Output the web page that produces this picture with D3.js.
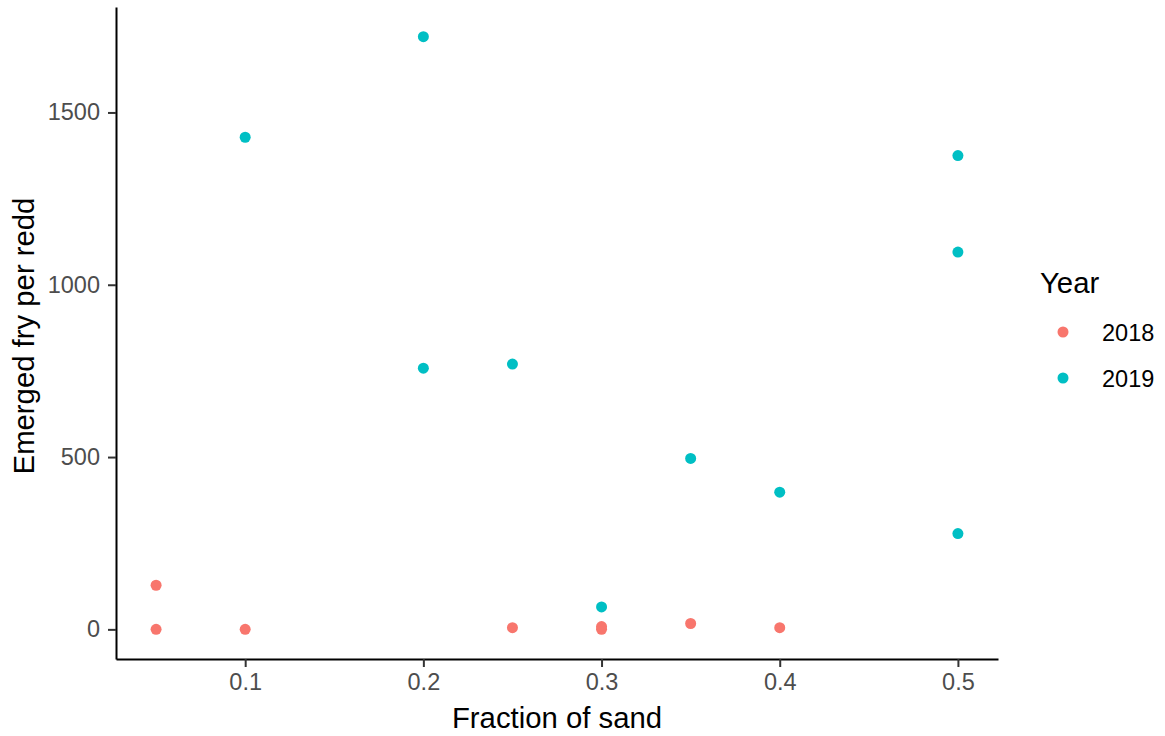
<!DOCTYPE html>
<html>
<head>
<meta charset="utf-8">
<script src="https://cdn.jsdelivr.net/npm/d3@7"></script>
<style>
  body { margin: 0; background: #fff; }
  svg { display: block; font-family: "Liberation Sans", Arial, sans-serif; }
</style>
</head>
<body>
<div id="chart"></div>
<script>
// data
const years = ["2018", "2019"];
const colors = ["#F8766D", "#00BFC4"];

const sand2018 = [0.05, 0.05, 0.1, 0.25, 0.3, 0.3, 0.35, 0.4];
const fry2018 = [128, 0, 0, 5, 0, 8, 17, 5];

const sand2019 = [0.1, 0.2, 0.2, 0.25, 0.3, 0.35, 0.4, 0.5, 0.5, 0.5];
const fry2019 = [1428, 1720, 758, 770, 65, 496, 398, 1375, 1095, 278];

const xTicks = [0.1, 0.2, 0.3, 0.4, 0.5];
const yTicks = [0, 500, 1000, 1500];

const points = [];
sand2018.forEach((s, i) => points.push({ sand: s, fry: fry2018[i], year: "2018" }));
sand2019.forEach((s, i) => points.push({ sand: s, fry: fry2019[i], year: "2019" }));

const width = 1165, height = 736;
const margin = { top: 7, right: 167, bottom: 77, left: 116 };

const colorScale = d3.scaleOrdinal().domain(years).range(colors);

// ggplot style 5% expansion
const xExt = d3.extent(points, d => d.sand);
const xPad = (xExt[1] - xExt[0]) * 0.05;
const yExt = d3.extent(points, d => d.fry);
const yPad = (yExt[1] - yExt[0]) * 0.05;

const xScale = d3.scaleLinear()
  .domain([xExt[0] - xPad, xExt[1] + xPad])
  .range([margin.left, width - margin.right]);

const yScale = d3.scaleLinear()
  .domain([yExt[0] - yPad, yExt[1] + yPad])
  .range([height - margin.bottom, margin.top]);

const svg = d3.select("#chart")
  .append("svg")
  .attr("width", width)
  .attr("height", height);

// points
svg.append("g")
  .selectAll("circle")
  .data(points)
  .enter()
  .append("circle")
  .attr("cx", d => xScale(d.sand))
  .attr("cy", d => yScale(d.fry))
  .attr("r", 5.5)
  .attr("fill", d => colorScale(d.year));

// axes
const xAxis = svg.append("g")
  .attr("transform", `translate(0,${height - margin.bottom})`)
  .call(d3.axisBottom(xScale).tickValues(xTicks).tickFormat(d3.format(".1f")).tickSize(8).tickPadding(6).tickSizeOuter(0));

const yAxis = svg.append("g")
  .attr("transform", `translate(${margin.left},0)`)
  .call(d3.axisLeft(yScale).tickValues(yTicks).tickFormat(d3.format("d")).tickSize(8).tickPadding(8).tickSizeOuter(0));

[xAxis, yAxis].forEach(ax => {
  ax.select(".domain").attr("stroke", "#000").attr("stroke-width", 2);
  ax.selectAll(".tick line").attr("stroke", "#333").attr("stroke-width", 2);
  ax.selectAll(".tick text")
    .attr("fill", "#4D4D4D")
    .style("font-size", "23.5px");
});

// axis titles
svg.append("text")
  .attr("x", (margin.left + width - margin.right) / 2)
  .attr("y", 728)
  .attr("text-anchor", "middle")
  .style("font-size", "29.3px")
  .attr("fill", "#000")
  .text("Fraction of sand");

svg.append("text")
  .attr("transform", `translate(34,336) rotate(-90)`)
  .attr("text-anchor", "middle")
  .style("font-size", "29.3px")
  .attr("fill", "#000")
  .text("Emerged fry per redd");

// legend
svg.append("text")
  .attr("x", 1040)
  .attr("y", 293)
  .style("font-size", "29.3px")
  .attr("fill", "#000")
  .text("Year");

const legend = svg.selectAll(".legend")
  .data(years)
  .enter()
  .append("g")
  .attr("class", "legend")
  .attr("transform", (_, i) => `translate(1063, ${332 + i * 46})`);

legend.append("circle")
  .attr("r", 5.5)
  .attr("fill", d => colorScale(d));

legend.append("text")
  .attr("x", 39)
  .attr("y", 9)
  .style("font-size", "23.5px")
  .attr("fill", "#000")
  .text(d => d);
</script>
</body>
</html>
